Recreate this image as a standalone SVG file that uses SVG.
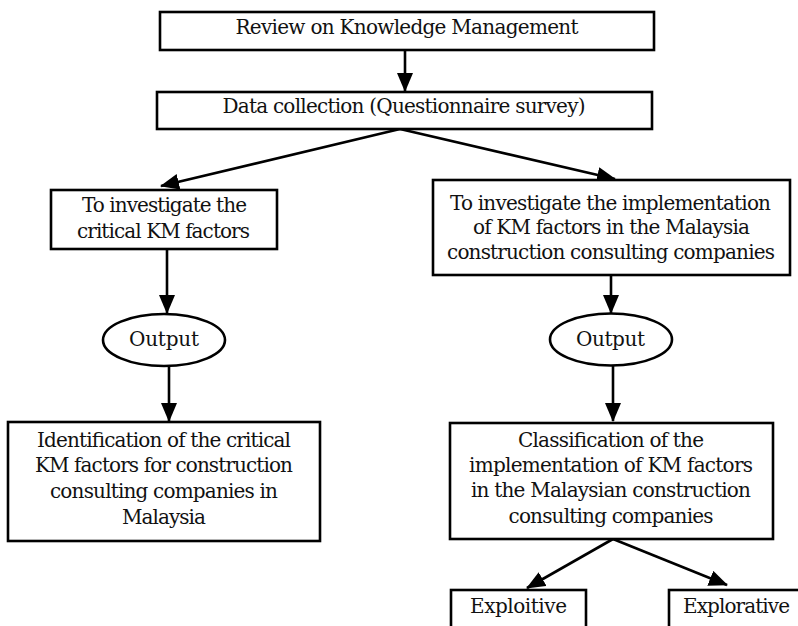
<svg xmlns="http://www.w3.org/2000/svg" width="798" height="626" viewBox="0 0 798 626">
<style>
.box{fill:#fff;stroke:#000;stroke-width:2.6}
.t{font-family:"DejaVu Serif","Liberation Serif",serif;font-size:20px;fill:#111;text-anchor:middle}
.c line{stroke:#000;stroke-width:2.6;marker-end:url(#ah)}
</style>
<defs>
<marker id="ah" markerUnits="userSpaceOnUse" markerWidth="19" markerHeight="16" viewBox="0 0 19 16" refX="18" refY="8" orient="auto">
<path d="M0,0 L19,8 L0,16 Z" fill="#000"/>
</marker>
</defs>
<rect width="798" height="626" fill="#fff"/>
<g id="connectors" class="c">
<line x1="405" y1="50" x2="405" y2="91"/>
<line x1="400" y1="129" x2="161" y2="186"/>
<line x1="400" y1="129" x2="615" y2="179"/>
<line x1="167" y1="249" x2="167" y2="313"/>
<line x1="169" y1="366" x2="169" y2="421"/>
<line x1="611" y1="275" x2="611" y2="313"/>
<line x1="613" y1="366" x2="613" y2="421"/>
<line x1="613" y1="539" x2="527" y2="588"/>
<line x1="613" y1="539" x2="727" y2="585"/>
</g>
<g id="review">
<rect class="box" x="160" y="12" width="494" height="38"/>
<text class="t" x="407" y="34" textLength="343">Review on Knowledge Management</text>
</g>
<g id="data">
<rect class="box" x="157" y="92" width="495" height="37"/>
<text class="t" x="404" y="113" textLength="363">Data collection (Questionnaire survey)</text>
</g>
<g id="critical">
<rect class="box" x="51" y="190" width="226" height="59"/>
<text class="t" x="164.5" y="212" textLength="165">To investigate the</text>
<text class="t" x="163.5" y="238" textLength="173">critical KM factors</text>
</g>
<g id="implementation">
<rect class="box" x="433" y="180" width="357" height="95"/>
<text class="t" x="610.5" y="210" textLength="321">To investigate the implementation</text>
<text class="t" x="611.5" y="234" textLength="277">of KM factors in the Malaysia</text>
<text class="t" x="611" y="259" textLength="328">construction consulting companies</text>
</g>
<g id="output1">
<ellipse class="box" cx="164" cy="340" rx="61" ry="26"/>
<text class="t" x="164" y="346" textLength="70">Output</text>
</g>
<g id="output2">
<ellipse class="box" cx="611" cy="339.5" rx="61" ry="26"/>
<text class="t" x="610.5" y="346" textLength="69">Output</text>
</g>
<g id="identification">
<rect class="box" x="8" y="422" width="312" height="119"/>
<text class="t" x="164" y="447" textLength="254">Identification of the critical</text>
<text class="t" x="164" y="472" textLength="258">KM factors for construction</text>
<text class="t" x="164" y="498" textLength="228">consulting companies in</text>
<text class="t" x="164" y="524" textLength="84">Malaysia</text>
</g>
<g id="classification">
<rect class="box" x="450" y="423" width="323" height="116"/>
<text class="t" x="611" y="447" textLength="186">Classification of the</text>
<text class="t" x="611" y="472" textLength="284">implementation of KM factors</text>
<text class="t" x="611" y="497" textLength="280">in the Malaysian construction</text>
<text class="t" x="611" y="523" textLength="205">consulting companies</text>
</g>
<g id="exploitive">
<rect class="box" x="451" y="590" width="135" height="60"/>
<text class="t" x="518.5" y="613" textLength="97">Exploitive</text>
</g>
<g id="explorative">
<rect class="box" x="669" y="590" width="160" height="60"/>
<text class="t" x="736.5" y="613" textLength="107">Explorative</text>
</g>
</svg>
